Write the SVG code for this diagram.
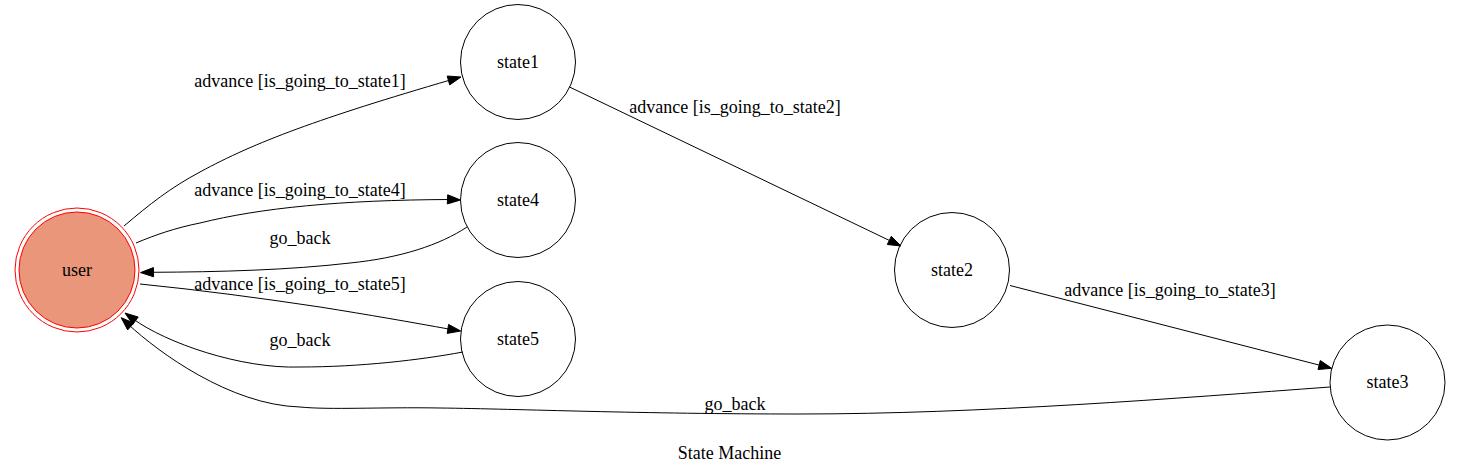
<svg xmlns="http://www.w3.org/2000/svg" width="1460" height="476" viewBox="0 0 1460 476">
<style>
text{font-family:"Liberation Serif","Times New Roman",serif;font-size:18px;fill:#000;text-anchor:middle}
.node{fill:#fff;stroke:#000;stroke-width:1}
.edge{fill:none;stroke:#000;stroke-width:1}
.head{fill:#000;stroke:#000;stroke-width:1}
</style>
<rect width="1460" height="476" fill="#fff"/>
<g id="user">
<circle cx="77" cy="270" r="58" fill="#e9967a" stroke="#ff0000"/>
<circle cx="77" cy="270" r="62" fill="none" stroke="#ff0000"/>
<text x="77" y="275.5">user</text>
</g>
<g id="state1">
<circle class="node" cx="518" cy="62" r="57.5"/>
<text x="518" y="67.5">state1</text>
</g>
<g id="state4">
<circle class="node" cx="518" cy="200" r="57.5"/>
<text x="518" y="205.5">state4</text>
</g>
<g id="state5">
<circle class="node" cx="518" cy="339" r="57.5"/>
<text x="518" y="344.5">state5</text>
</g>
<g id="state2">
<circle class="node" cx="952" cy="270" r="57.5"/>
<text x="952" y="275.5">state2</text>
</g>
<g id="state3">
<circle class="node" cx="1387.5" cy="382.5" r="57.5"/>
<text x="1387.5" y="388">state3</text>
</g>
<g id="connectors">
<path class="edge" d="M124,226 C150,204 170,188 200,172 C255,142 320,118 451.4,79.7"/>
<polygon class="head" points="461,77 449.7,84.9 447.2,76"/>
<text x="300" y="87">advance [is_going_to_state1]</text>

<path class="edge" d="M136,243 C155,235 175,228 200,223 C260,208 340,200 450.5,199.5"/>
<polygon class="head" points="460.5,200 447.3,203.95 447.7,194.75"/>
<text x="300" y="196">advance [is_going_to_state4]</text>

<path class="edge" d="M467,227 C440,245 400,258 350,263 C290,270 220,272 150.5,272.3"/>
<polygon class="head" points="140.5,272.6 153.4,267.6 153.6,276.8"/>
<text x="300" y="244">go_back</text>

<path class="edge" d="M140,284 C200,290 260,298 320,307 C370,315 410,322 450.8,329.4"/>
<polygon class="head" points="460.7,331 447.2,333.4 448.6,324.4"/>
<text x="300" y="290">advance [is_going_to_state5]</text>

<path class="edge" d="M463,352 C420,360 360,367 300,367 C240,369 165.5,342.5 133.1,318.9"/>
<polygon class="head" points="125,313 138.2,317 132.8,324.4"/>
<text x="300" y="346">go_back</text>

<path class="edge" d="M1330,387 C1180,398 980,414 800,414 C640,414 520,409 440,408 C380,407 330,410 300,407 C230,405 158,352 128.5,324.5"/>
<polygon class="head" points="121.2,317.7 133.8,323.1 127.6,329.9"/>
<text x="735" y="410">go_back</text>

<path class="edge" d="M569.5,87 L892,241.7"/>
<polygon class="head" points="901,246 887.3,244.5 891.3,236.3"/>
<text x="735" y="113">advance [is_going_to_state2]</text>

<path class="edge" d="M1010,285.5 L1322,365.8"/>
<polygon class="head" points="1331.7,368.3 1318,369.5 1320.3,360.5"/>
<text x="1170" y="296">advance [is_going_to_state3]</text>
</g>
<text x="729.5" y="459">State Machine</text>
</svg>
